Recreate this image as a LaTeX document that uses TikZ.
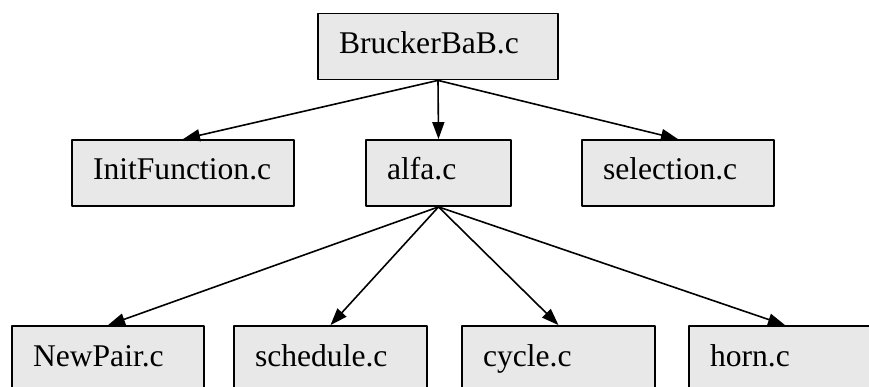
\documentclass[tikz,border=0pt]{standalone}
\usepackage{fontspec}
\setmainfont{Liberation Serif}
\usetikzlibrary{arrows.meta, positioning}
\definecolor{boxgray}{HTML}{E8E8E8}

\begin{document}
\begin{tikzpicture}[x=1pt, y=-1pt, line cap=round, line join=round,
    filebox/.style={draw=black, fill=boxgray, line width=1.8pt, rectangle,
      minimum height=66pt, inner xsep=21pt, inner ysep=0pt, align=left,
      text height=22pt, text depth=8pt, font=\fontsize{31.6}{38}\selectfont},
    calls/.style={line width=1.6pt, -{Triangle[length=17pt, width=12pt]}}]
      \clip (0,0) rectangle (869,387);

      % Programa principal
      \node[filebox, text width=198pt] (brucker) at (438,46.5) {BruckerBaB.c};

      % Segundo nivel
      \node[filebox, text width=180pt] (initf) at (183,173) {InitFunction.c};
      \node[filebox, text width=103pt] (alfa) at (438.5,173) {alfa.c};
      \node[filebox, text width=150pt] (selection) at (678,173) {selection.c};

      % Tercer nivel
      \node[filebox, text width=150pt] (newpair) at (108,359) {NewPair.c};
      \node[filebox, text width=151pt] (schedule) at (330.5,359) {schedule.c};
      \node[filebox, text width=151pt] (cycle) at (558.5,359) {cycle.c};
      \node[filebox, text width=150pt] (horn) at (785,359) {horn.c};

      % Llamadas
      \draw[calls] (brucker.south) -- (initf.north);
      \draw[calls] (brucker.south) -- (alfa.north);
      \draw[calls] (brucker.south) -- (selection.north);
      \draw[calls] (alfa.south) -- (newpair.north);
      \draw[calls] (alfa.south) -- (schedule.north);
      \draw[calls] (alfa.south) -- (cycle.north);
      \draw[calls] (alfa.south) -- (horn.north);
\end{tikzpicture}
\end{document}
